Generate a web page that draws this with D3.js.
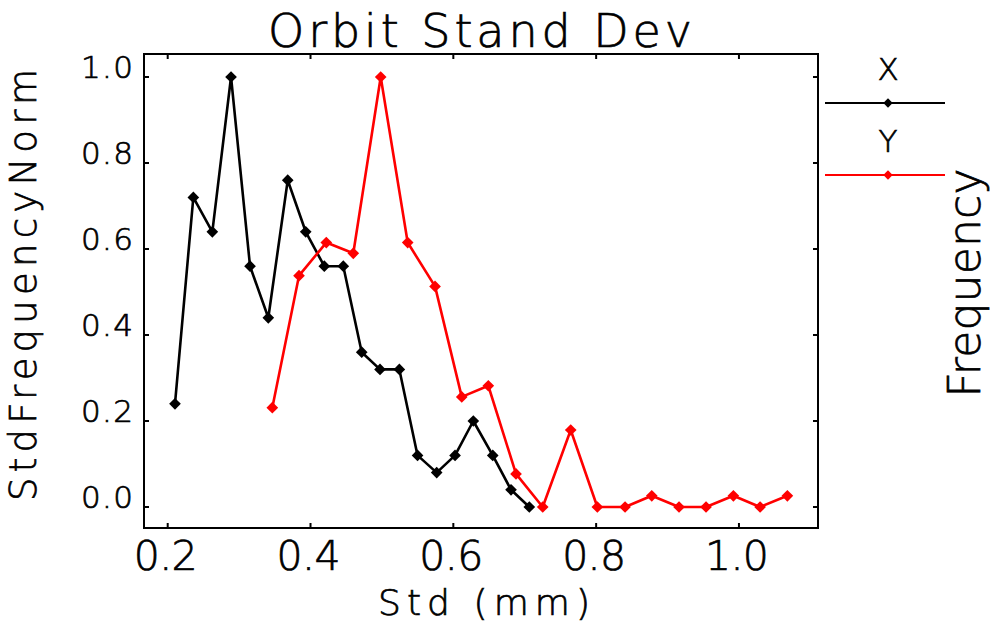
<!DOCTYPE html>
<html>
<head>
<meta charset="utf-8">
<script src="https://cdn.jsdelivr.net/npm/d3@7"></script>
<style>
  body { margin: 0; background: #fff; }
  svg text { font-family: 'DejaVu Sans', sans-serif; font-weight: 200; fill: #000; stroke: #000; stroke-width: 0.7px; }
</style>
</head>
<body>
<svg id="chart" width="992" height="626"></svg>
<script>
// orbit std (mm) and normalised frequency
const xStd = [0.2102, 0.2359, 0.2625, 0.2887, 0.3153, 0.3409, 0.3681, 0.3933, 0.4193, 0.4459,
  0.4717, 0.4973, 0.5244, 0.5499, 0.5767, 0.6024, 0.6280, 0.6552, 0.6808, 0.7064];
const xFreq = [0.24, 0.72, 0.64, 1.0, 0.56, 0.44, 0.76, 0.64, 0.56, 0.56,
  0.36, 0.32, 0.32, 0.12, 0.08, 0.12, 0.20, 0.12, 0.04, 0.0];

const yStd = [0.3465, 0.3839, 0.4221, 0.4599, 0.4983, 0.5361, 0.5744, 0.6118, 0.6490, 0.6878,
  0.7252, 0.7644, 0.8017, 0.8405, 0.8779, 0.9161, 0.9539, 0.9922, 1.0296, 1.0678];
const yFreq = [0.231, 0.538, 0.615, 0.590, 1.0, 0.615, 0.513, 0.256, 0.282, 0.077,
  0.0, 0.179, 0.0, 0.0, 0.026, 0.0, 0.0, 0.026, 0.0, 0.026];

const xTicks = [0.2, 0.4, 0.6, 0.8, 1.0];
const yTicks = [0.0, 0.2, 0.4, 0.6, 0.8, 1.0];
const seriesNames = ['X', 'Y'];
const seriesColors = ['#000000', '#ff0000'];

const svg = d3.select('#chart');
const box = { left: 144, right: 818, top: 54, bottom: 528 };

const x = d3.scaleLinear().domain([0.16681, 1.1107]).range([box.left, box.right]);
const y = d3.scaleLinear().domain([-0.04884, 1.05349]).range([box.bottom, box.top]);
const fmt = d3.format('.1f');

// frame
svg.append('rect')
  .attr('x', box.left).attr('y', box.top)
  .attr('width', box.right - box.left).attr('height', box.bottom - box.top)
  .attr('fill', 'none').attr('stroke', '#000').attr('stroke-width', 2);

// ticks, inward on all four sides
const tickLen = 5;
const g = svg.append('g').attr('stroke', '#000').attr('stroke-width', 2);
xTicks.forEach(t => {
  g.append('line').attr('x1', x(t)).attr('x2', x(t)).attr('y1', box.bottom).attr('y2', box.bottom - tickLen);
  g.append('line').attr('x1', x(t)).attr('x2', x(t)).attr('y1', box.top).attr('y2', box.top + tickLen);
});
yTicks.forEach(t => {
  g.append('line').attr('y1', y(t)).attr('y2', y(t)).attr('x1', box.left).attr('x2', box.left + tickLen);
  g.append('line').attr('y1', y(t)).attr('y2', y(t)).attr('x1', box.right).attr('x2', box.right - tickLen);
});

svg.append('g').selectAll('text').data(xTicks).join('text')
  .attr('x', d => x(d) - 2).attr('y', 570)
  .attr('text-anchor', 'middle').attr('font-size', 41)
  .attr('textLength', 64).attr('lengthAdjust', 'spacing')
  .text(fmt);

svg.append('g').selectAll('text').data(yTicks).join('text')
  .attr('x', 133).attr('y', d => y(d) + 1)
  .attr('text-anchor', 'end').attr('font-size', 31)
  .attr('textLength', 52).attr('lengthAdjust', 'spacing')
  .text(fmt);

// titles
svg.append('text').attr('x', 480).attr('y', 47).attr('text-anchor', 'middle')
  .attr('font-size', 46).attr('textLength', 424).attr('lengthAdjust', 'spacing')
  .text('Orbit Stand Dev');
svg.append('text').attr('x', 484).attr('y', 615).attr('text-anchor', 'middle')
  .attr('font-size', 36).attr('textLength', 212).attr('lengthAdjust', 'spacing')
  .text('Std (mm)');
svg.append('text').attr('transform', 'translate(36,285) rotate(-90)').attr('text-anchor', 'middle')
  .attr('font-size', 37).attr('textLength', 432).attr('lengthAdjust', 'spacing')
  .text('StdFrequencyNorm');
svg.append('text').attr('transform', 'translate(980,283) rotate(-90)').attr('text-anchor', 'middle')
  .attr('font-size', 44).attr('textLength', 229).attr('lengthAdjust', 'spacing')
  .text('Frequency');

// series
const diamond = d3.symbol(d3.symbolSquare, 68);
const line = d3.line().x(d => x(d[0])).y(d => y(d[1]));
const series = [d3.zip(xStd, xFreq), d3.zip(yStd, yFreq)];

series.forEach((pts, i) => {
  svg.append('path').datum(pts)
    .attr('d', line).attr('fill', 'none')
    .attr('stroke', seriesColors[i]).attr('stroke-width', 2.6).attr('stroke-linejoin', 'round');
  svg.append('g').selectAll('path').data(pts).join('path')
    .attr('d', diamond)
    .attr('transform', d => `translate(${x(d[0])},${y(d[1])}) rotate(45)`)
    .attr('fill', seriesColors[i]);
});

// legend
const legendY = [103, 175];
seriesNames.forEach((name, i) => {
  svg.append('text').attr('x', 888).attr('y', legendY[i] - 23)
    .attr('text-anchor', 'middle').attr('font-size', 31).text(name);
  svg.append('line').attr('x1', 825).attr('x2', 945).attr('y1', legendY[i]).attr('y2', legendY[i])
    .attr('stroke', seriesColors[i]).attr('stroke-width', 2);
  svg.append('path').attr('d', d3.symbol(d3.symbolSquare, 44))
    .attr('transform', `translate(888,${legendY[i]}) rotate(45)`)
    .attr('fill', seriesColors[i]);
});
</script>
</body>
</html>
